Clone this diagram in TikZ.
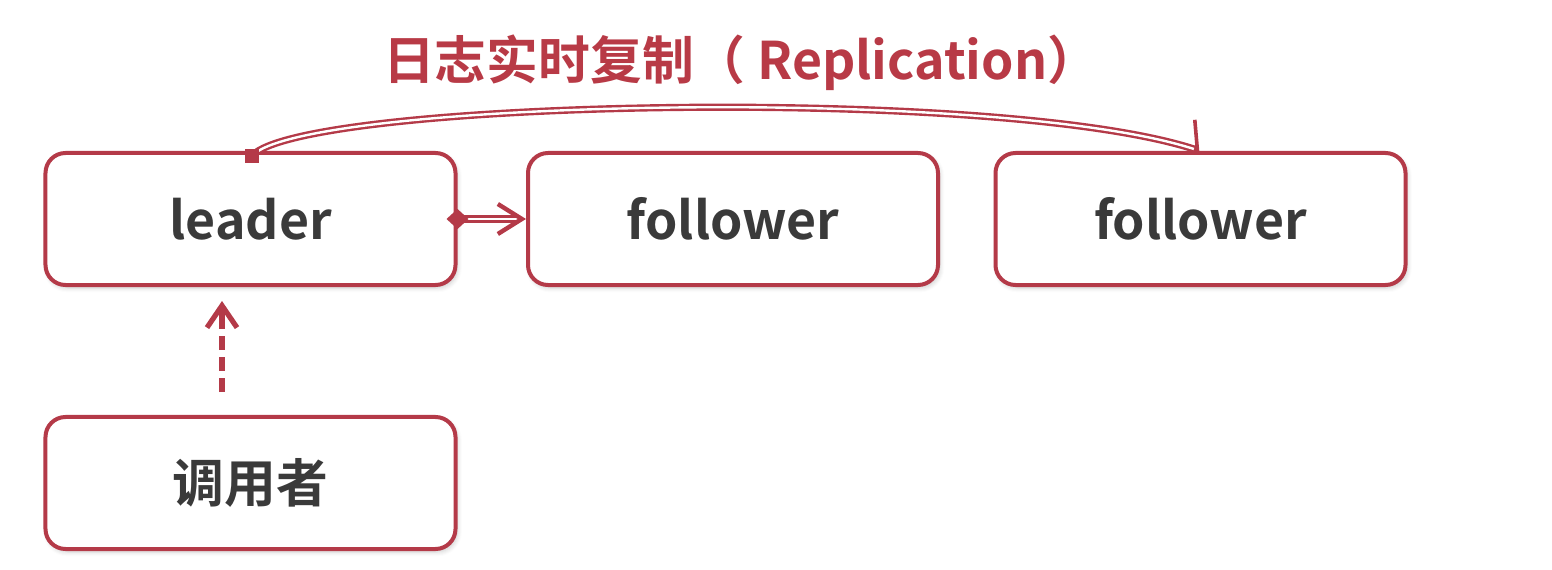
\documentclass[tikz,border=0pt]{standalone}
\usepackage{fontspec}
\setmainfont{Noto Sans CJK SC}[BoldFont={* Bold}]
\usetikzlibrary{arrows.meta,shadows.blur}
\definecolor{bred}{RGB}{180,58,72}
\definecolor{tred}{RGB}{184,58,70}
\definecolor{tgray}{RGB}{58,58,58}
\tikzset{
  box/.style={draw=bred,line width=2bp,rounded corners=10bp,fill=white,
    minimum width=205bp,minimum height=66bp,inner sep=0pt,
    text=tgray,font=\fontsize{26}{30}\selectfont\bfseries,
    blur shadow={shadow xshift=1bp,shadow yshift=-1.5bp,shadow blur steps=5,shadow opacity=20}},
  dbl/.style={draw=bred,line width=1.2bp,double=white,double distance=1.2bp},
}
\begin{document}
\begin{tikzpicture}[x=0.5bp,y=-0.5bp]
\useasboundingbox (0,0) rectangle (1552,570);
\node[box] (leader) at (250.5,219) {leader};
\node[box] (f1) at (733,219) {follower};
\node[box] (f2) at (1200.5,219) {follower};
\node[box] (caller) at (250.5,483) {调用者};
\node[text=tred,font=\fontsize{26}{30}\selectfont\bfseries,anchor=west] (title) at (376,63) {日志实时复制（ Replication）};
\coordinate (cs) at (252,156);
\coordinate (ce) at (1200,151);
\draw[dbl,-{Straight Barb[harpoon,length=6bp,width=28bp,line width=1.8bp]}] (cs) .. controls (300,100) and (1000,85) .. (ce);
\fill[bred] ([xshift=-3.5bp,yshift=-3.5bp]cs) rectangle ([xshift=3.5bp,yshift=3.5bp]cs);
\draw[dbl,-{Straight Barb[length=12bp,width=15bp,line width=2.2bp]}] (leader.east) -- (f1.west);
\fill[bred] (leader.east) ++(-5.5bp,0) -- ++(5.5bp,5bp) -- ++(5.5bp,-5bp) -- ++(-5.5bp,-5bp) -- cycle;
\coordinate (ds) at (222,392);
\draw[bred,line width=3bp,dash pattern=on 7bp off 3.5bp] (ds) -- (222,318);
\draw[bred,line width=3bp,-{Straight Barb[length=11bp,width=15bp,line width=2.6bp]}] (222,326) -- ([yshift=-7bp]leader.south -| ds);
\end{tikzpicture}
\end{document}
